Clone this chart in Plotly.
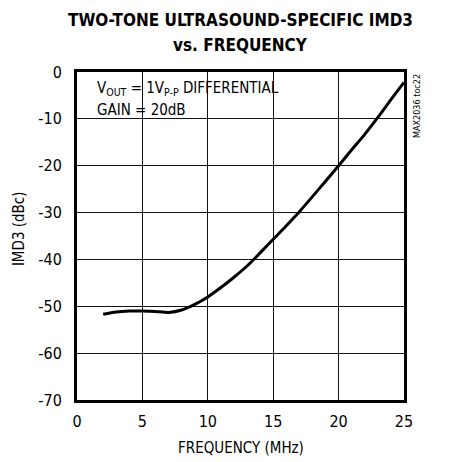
import plotly.graph_objects as go

freq_mhz = [2, 3, 4, 5, 6, 7, 8, 9, 10, 11, 12, 13, 14, 15, 16, 17, 18, 19, 20, 21, 22, 23, 24, 25]
imd3_dbc = [-51.7, -51.2, -51.0, -51.0, -51.1, -51.3, -50.8, -49.6, -48.0, -46.0, -43.8, -41.4,
            -38.6, -35.7, -32.8, -29.8, -26.6, -23.3, -20.0, -16.6, -13.3, -9.7, -5.9, -2.2]
x_ticks = [0, 5, 10, 15, 20, 25]
y_ticks = [0, -10, -20, -30, -40, -50, -60, -70]

FONT = "DejaVu Sans Condensed, DejaVu Sans, sans-serif"

fig = go.Figure()
fig.add_trace(go.Scatter(x=freq_mhz, y=imd3_dbc, mode="lines",
                         line=dict(color="black", width=3, shape="spline", smoothing=0.8),
                         showlegend=False, hoverinfo="skip"))

# white box behind the condition text (hides gridlines)
fig.add_shape(type="rect", xref="x", yref="y", x0=1.0, x1=16.1, y0=-1.0, y1=-11.9,
              fillcolor="white", line=dict(width=0), layer="below")

fig.add_annotation(xref="x", yref="y", x=1.38, y=-3.6, xanchor="left", yanchor="middle",
                   text="V<sub>OUT</sub> = 1V<sub>P-P</sub> DIFFERENTIAL", showarrow=False,
                   font=dict(family=FONT, size=15, color="black"))
fig.add_annotation(xref="x", yref="y", x=1.38, y=-8.1, xanchor="left", yanchor="middle",
                   text="GAIN = 20dB", showarrow=False,
                   font=dict(family=FONT, size=15, color="black"))
fig.add_annotation(xref="paper", yref="paper", x=1.0, y=1.0, xshift=13, yshift=0,
                   xanchor="center", yanchor="top", textangle=-90,
                   text="MAX2036 toc22", showarrow=False,
                   font=dict(family=FONT, size=9, color="black"))

# title lines
fig.add_annotation(xref="paper", yref="paper", x=0.5, y=1.1585, xanchor="center", yanchor="middle",
                   text="<b>TWO-TONE ULTRASOUND-SPECIFIC IMD3</b>", showarrow=False,
                   font=dict(family=FONT, size=17, color="black"))
fig.add_annotation(xref="paper", yref="paper", x=0.5, y=1.0823, xanchor="center", yanchor="middle",
                   text="<b>vs. FREQUENCY</b>", showarrow=False,
                   font=dict(family=FONT, size=17, color="black"))

# axis titles
fig.add_annotation(xref="paper", yref="paper", x=0.5, y=-0.146, xanchor="center", yanchor="middle",
                   text="FREQUENCY (MHz)", showarrow=False,
                   font=dict(family=FONT, size=15, color="black"))
fig.add_annotation(xref="paper", yref="paper", x=-0.1774, y=0.524, xanchor="center", yanchor="middle",
                   text="IMD3 (dBc)", showarrow=False, textangle=-90,
                   font=dict(family=FONT, size=15, color="black"))

fig.update_layout(
    width=441, height=454,
    margin=dict(l=69, r=45, t=64, b=62),
    paper_bgcolor="white", plot_bgcolor="white",
    font=dict(family=FONT, color="black"),
)
fig.update_xaxes(range=[0, 25], tickvals=x_ticks, ticktext=[str(v) for v in x_ticks],
                 showgrid=True, gridcolor="#111", gridwidth=1,
                 showline=True, linecolor="black", linewidth=3, mirror=True,
                 zeroline=False, ticks="outside", ticklen=5, tickcolor="rgba(0,0,0,0)",
                 tickfont=dict(family=FONT, size=16, color="black"))
fig.update_yaxes(range=[-70, 0], tickvals=y_ticks, ticktext=[str(v) for v in y_ticks],
                 showgrid=True, gridcolor="#111", gridwidth=1,
                 showline=True, linecolor="black", linewidth=3, mirror=True,
                 zeroline=False, ticks="outside", ticklen=9, tickcolor="rgba(0,0,0,0)",
                 tickfont=dict(family=FONT, size=16, color="black"))

fig.write_html("out.html")
